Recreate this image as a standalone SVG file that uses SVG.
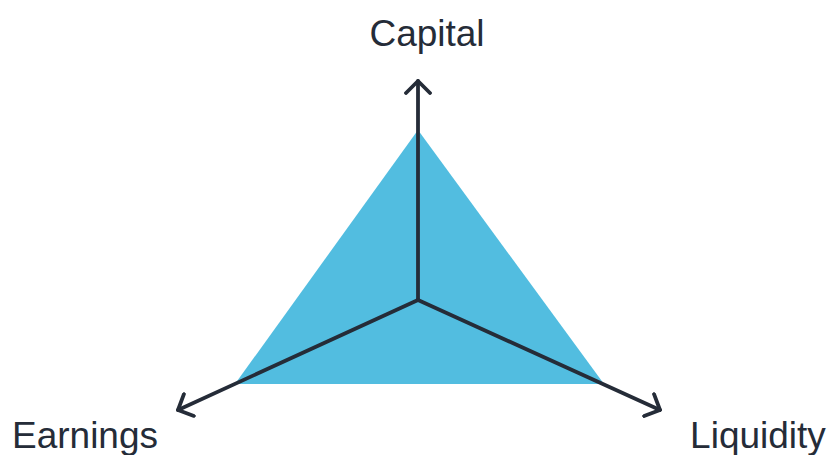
<svg xmlns="http://www.w3.org/2000/svg" width="829" height="455" viewBox="0 0 829 455">
<style>
.lbl{font-family:"Liberation Sans",Arial,sans-serif;font-size:37px;fill:#252c38}
.ax{stroke:#252c38;stroke-width:3.8;fill:none;stroke-linecap:round;stroke-linejoin:round}
</style>
<defs>
<marker id="arr" viewBox="-14 -14 16 28" markerWidth="16" markerHeight="28" refX="0" refY="0" orient="auto" markerUnits="userSpaceOnUse">
<path d="M-12,-12 L0,0 L-12,12" fill="none" stroke="#252c38" stroke-width="3.8" stroke-linecap="round" stroke-linejoin="round"/>
</marker>
</defs>
<g id="triangle">
<polygon points="418,130 235,384 604,384" fill="#52bde0"/>
</g>
<g id="connectors">
<line class="ax" x1="418" y1="300" x2="418" y2="81" marker-end="url(#arr)"/>
<line class="ax" x1="418" y1="300" x2="178" y2="410" marker-end="url(#arr)"/>
<line class="ax" x1="418" y1="300" x2="660" y2="410" marker-end="url(#arr)"/>
</g>
<g id="capital"><text class="lbl" x="427" y="46" text-anchor="middle">Capital</text></g>
<g id="earnings"><text class="lbl" x="85" y="448" text-anchor="middle">Earnings</text></g>
<g id="liquidity"><text class="lbl" x="758" y="448" text-anchor="middle">Liquidity</text></g>
</svg>
